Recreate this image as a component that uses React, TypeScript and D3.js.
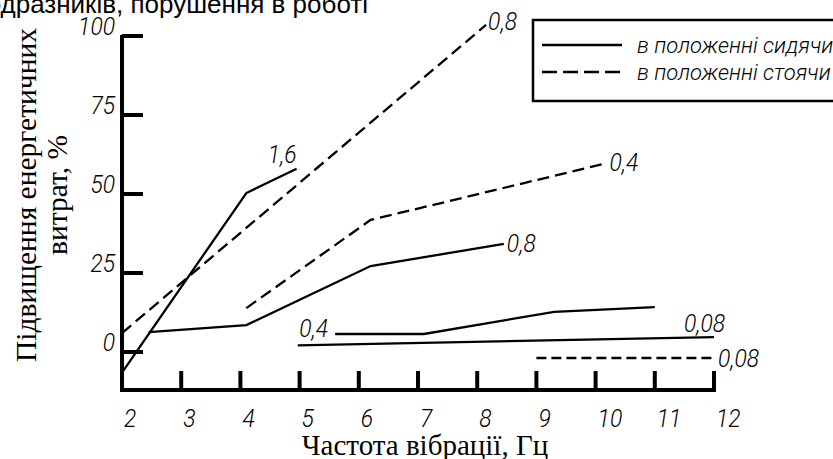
import * as d3 from 'd3';

// frequency (Hz) / increase of energy costs (%)
type Pt = [number, number];

const xTicks = [2, 3, 4, 5, 6, 7, 8, 9, 10, 11, 12];
const yTicks = [0, 25, 50, 75, 100];

// solid = sitting, dashed = standing; label = vibration acceleration
const sit16: Pt[] = [[2, -6.5], [4.1, 50.3], [4.95, 58]];
const sit08: Pt[] = [[2.45, 6.3], [4.1, 8.5], [6.2, 27.2], [8.45, 34.2]];
const sit04: Pt[] = [[5.6, 5.7], [7.1, 5.7], [9.3, 12.7], [11, 14.2]];
const sit008: Pt[] = [[4.97, 2.1], [12, 4.7]];
const stand08: Pt[] = [[2, 6], [8.15, 103.5]];
const stand04: Pt[] = [[4.1, 13.9], [6.2, 41.8], [10.2, 59.8]];
const stand008: Pt[] = [[9, -1.9], [12, -1.9]];

const legendLabels = ['в положенні сидячи', 'в положенні стоячи'];

const NUM_FONT = "Roboto, 'DejaVu Sans Condensed', sans-serif";
const SERIF = "'Liberation Serif', 'DejaVu Serif', serif";

// condensed italic drawing-style numbers
function Num(props: { x: number; y: number; anchor?: string; children: any }) {
  return (
    <text
      transform={`translate(${props.x},${props.y}) scale(0.88,1)`}
      textAnchor={props.anchor as any}
      fontFamily={NUM_FONT}
      fontStyle="italic"
      fontWeight={300}
      fontSize={26}
    >
      {props.children}
    </text>
  );
}

export default function App() {
  const x = d3.scaleLinear().domain([2, 12]).range([122, 714]);
  const y = d3.scaleLinear().domain([0, 100]).range([352, 36]);
  const axisY = 390;

  const line = d3.line<Pt>()
    .x(d => x(d[0]))
    .y(d => y(d[1]));

  const series = [
    { data: sit16, dash: undefined, label: '1,6', at: 'end', dx: 0, dy: -6, anchor: 'end' },
    { data: sit08, dash: undefined, label: '0,8', at: 'end', dx: 3, dy: 8, anchor: 'start' },
    { data: sit04, dash: undefined, label: '0,4', at: 'start', dx: -7, dy: 3, anchor: 'end' },
    { data: sit008, dash: undefined, label: '0,08', at: 'end', dx: -30, dy: -5, anchor: 'start' },
    { data: stand08, dash: '12,6', label: '0,8', at: 'end', dx: 2, dy: 5, anchor: 'start' },
    { data: stand04, dash: '12,6', label: '0,4', at: 'end', dx: 2, dy: 8, anchor: 'start' },
    { data: stand008, dash: '10,5', label: '0,08', at: 'end', dx: 4, dy: 9, anchor: 'start' },
  ];

  return (
    <svg
      width="833"
      height="459"
      viewBox="0 0 833 459"
      style={{ position: 'absolute', left: 0, top: 0, background: '#fff' }}
    >
      {/* title cut off by the crop */}
      <text x={368} y={13} textAnchor="end" fontFamily="'Liberation Sans', Arial, sans-serif" fontSize={26}>
        подразників, порушення в роботі
      </text>

      {/* y axis */}
      <line x1={x(2)} x2={x(2)} y1={y(100) - 1} y2={axisY + 2} stroke="#000" strokeWidth={4} />
      {yTicks.map(t => (
        <g key={t}>
          <line x1={x(2)} x2={x(2) + 21} y1={y(t)} y2={y(t)} stroke="#000" strokeWidth={4} />
          <Num x={115} y={y(t) - 1} anchor="end">{t}</Num>
        </g>
      ))}

      {/* x axis */}
      <line x1={x(2) - 2} x2={x(12) + 2} y1={axisY} y2={axisY} stroke="#000" strokeWidth={4} />
      {xTicks.map(t => (
        <g key={t}>
          {t > 2 && (
            <line x1={x(t)} x2={x(t)} y1={axisY} y2={axisY - 19} stroke="#000" strokeWidth={4} />
          )}
          <Num x={x(t) + 2} y={427}>{t}</Num>
        </g>
      ))}

      {/* curves */}
      {series.map((s, i) => {
        const p = s.at === 'end' ? s.data[s.data.length - 1] : s.data[0];
        return (
          <g key={i}>
            <path
              d={line(s.data) || ''}
              fill="none"
              stroke="#000"
              strokeWidth={2.3}
              strokeDasharray={s.dash}
            />
            <Num x={x(p[0]) + s.dx} y={y(p[1]) + s.dy} anchor={s.anchor}>{s.label}</Num>
          </g>
        );
      })}

      {/* legend */}
      <rect x={533} y={20} width={310} height={81} fill="#fff" stroke="#000" strokeWidth={2.5} />
      {legendLabels.map((l, i) => (
        <g key={l}>
          <line
            x1={542}
            x2={622}
            y1={45 + i * 27}
            y2={45 + i * 27}
            stroke="#000"
            strokeWidth={2.5}
            strokeDasharray={i === 1 ? '15,6' : undefined}
          />
          <text
            x={637}
            y={53 + i * 27}
            fontFamily={NUM_FONT}
            fontStyle="italic"
            fontWeight={300}
            fontSize={22}
          >
            {l}
          </text>
        </g>
      ))}

      {/* axis titles */}
      <g transform="translate(36,195) rotate(-90)">
        <text textAnchor="middle" fontFamily={SERIF} fontSize={29.5}>
          Підвищення енергетичних
        </text>
      </g>
      <g transform="translate(67,195) rotate(-90)">
        <text textAnchor="middle" fontFamily={SERIF} fontSize={29.5}>
          витрат, %
        </text>
      </g>
      <text x={425} y={455} textAnchor="middle" fontFamily={SERIF} fontSize={29}>
        Частота вібрації, Гц
      </text>
    </svg>
  );
}
